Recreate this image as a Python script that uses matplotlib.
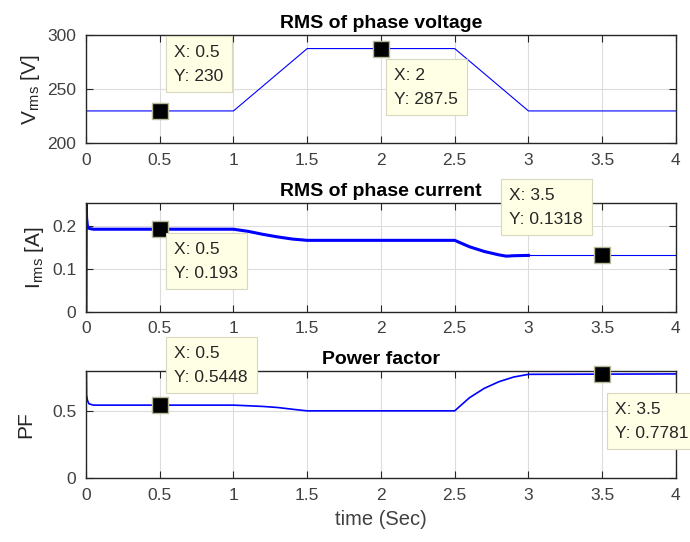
import matplotlib.pyplot as plt
import numpy as np

plt.rcParams['font.family'] = ['Liberation Sans', 'DejaVu Sans']
plt.rcParams['mathtext.fontset'] = 'custom'
plt.rcParams['mathtext.rm'] = 'Liberation Sans'

# RMS phase voltage breakpoints
t_v = [0, 1.0, 1.5, 2.5, 3.0, 4.0]
v_rms = [230, 230, 287.5, 287.5, 230, 230]

# RMS phase current
t_i = [0, 0.002, 0.004, 0.01, 0.02, 0.05, 1.0, 1.1, 1.2, 1.3, 1.4, 1.5,
       2.5, 2.6, 2.7, 2.8, 2.85, 2.9, 3.0, 4.0]
i_rms = [0, 0.255, 0.22, 0.2, 0.195, 0.193, 0.193, 0.188, 0.181, 0.175, 0.17, 0.167,
         0.167, 0.152, 0.141, 0.133, 0.130, 0.131, 0.1318, 0.1318]

# power factor
t_pf = [0, 0.002, 0.004, 0.01, 0.02, 0.05, 1.0, 1.1, 1.2, 1.3, 1.4, 1.5,
        2.5, 2.6, 2.7, 2.8, 2.9, 3.0, 4.0]
pf = [0, 0.8, 0.62, 0.58, 0.555, 0.5448, 0.5448, 0.54, 0.535, 0.527, 0.514, 0.502,
      0.502, 0.60, 0.67, 0.72, 0.755, 0.775, 0.7781]

# data tips: (x, y, text x, text y)
tips_v = [(0.5, 230, 0.6, 291), (2, 287.5, 2.09, 270)]
tips_i = [(0.5, 0.193, 0.6, 0.164), (3.5, 0.1318, 2.87, 0.290)]
tips_pf = [(0.5, 0.5448, 0.6, 0.99), (3.5, 0.7781, 3.59, 0.57)]

fig = plt.figure(figsize=(6.9, 5.42), dpi=100)
ax1 = fig.add_axes([0.1246, 0.7353, 0.855, 0.2001])
ax2 = fig.add_axes([0.1246, 0.4248, 0.855, 0.2012])
ax3 = fig.add_axes([0.1246, 0.1181, 0.855, 0.1974])

blue = '#0000ff'
ax1.plot(t_v, v_rms, color=blue, lw=0.8)
t_i = np.array(t_i); i_rms = np.array(i_rms)
ax2.plot(t_i[t_i <= 3.0], i_rms[t_i <= 3.0], color=blue, lw=2.2)
ax2.plot(t_i[t_i >= 3.0], i_rms[t_i >= 3.0], color=blue, lw=0.8)
ax3.plot(t_pf, pf, color=blue, lw=1.2)

ax1.set_ylim(200, 300)
ax1.set_yticks([200, 250, 300])
ax2.set_ylim(0, 0.255)
ax2.set_yticks([0, 0.1, 0.2])
ax2.set_yticklabels(['0', '0.1', '0.2'])
ax3.set_ylim(0, 0.8)
ax3.set_yticks([0, 0.5])
ax3.set_yticklabels(['0', '0.5'])

ax1.set_title('RMS of phase voltage', fontsize=14, fontweight='bold', pad=5)
ax2.set_title('RMS of phase current', fontsize=14, fontweight='bold', pad=5)
ax3.set_title('Power factor', fontsize=14, fontweight='bold', pad=5)
ax1.set_ylabel('V$_{\\rm rms}$ [V]', fontsize=15, labelpad=4, color='#262626')
ax2.set_ylabel('I$_{\\rm rms}$ [A]', fontsize=15, labelpad=4, color='#262626')
ax3.set_ylabel('PF', fontsize=15, labelpad=12, color='#262626')
ax3.set_xlabel('time (Sec)', fontsize=14.5, color='#404040', labelpad=5)

for ax in (ax1, ax2, ax3):
    ax.set_xlim(0, 4)
    ax.set_xticks([0, 0.5, 1, 1.5, 2, 2.5, 3, 3.5, 4])
    ax.set_xticklabels(['0', '0.5', '1', '1.5', '2', '2.5', '3', '3.5', '4'])
    ax.grid(True, color='#dcdcdc', lw=0.8)
    ax.set_axisbelow(True)
    ax.tick_params(direction='in', top=True, right=True, length=5, width=0.8,
                   labelsize=12.5, colors='#262626', pad=7)
    for lab in ax.get_xticklabels() + ax.get_yticklabels():
        lab.set_color('#404040')
    for s in ax.spines.values():
        s.set_color('#262626')
        s.set_linewidth(1.0)

for ax, tips in ((ax1, tips_v), (ax2, tips_i), (ax3, tips_pf)):
    for x, y, tx, ty in tips:
        ax.plot([x], [y], 's', color='black', markersize=11, markeredgecolor='#b8b89a',
                markeredgewidth=1, clip_on=False, zorder=5)
        lbl = f'X: {x:g}\nY: {y:g}'
        ax.text(tx, ty, lbl, fontsize=12.5, va='top', ha='left', linespacing=1.75,
                color='#262626', clip_on=False, zorder=6,
                bbox=dict(boxstyle='square,pad=0.5', fc='#ffffe6', ec='#d8d8c0', lw=0.8))

fig.savefig('out.png', dpi=100)
